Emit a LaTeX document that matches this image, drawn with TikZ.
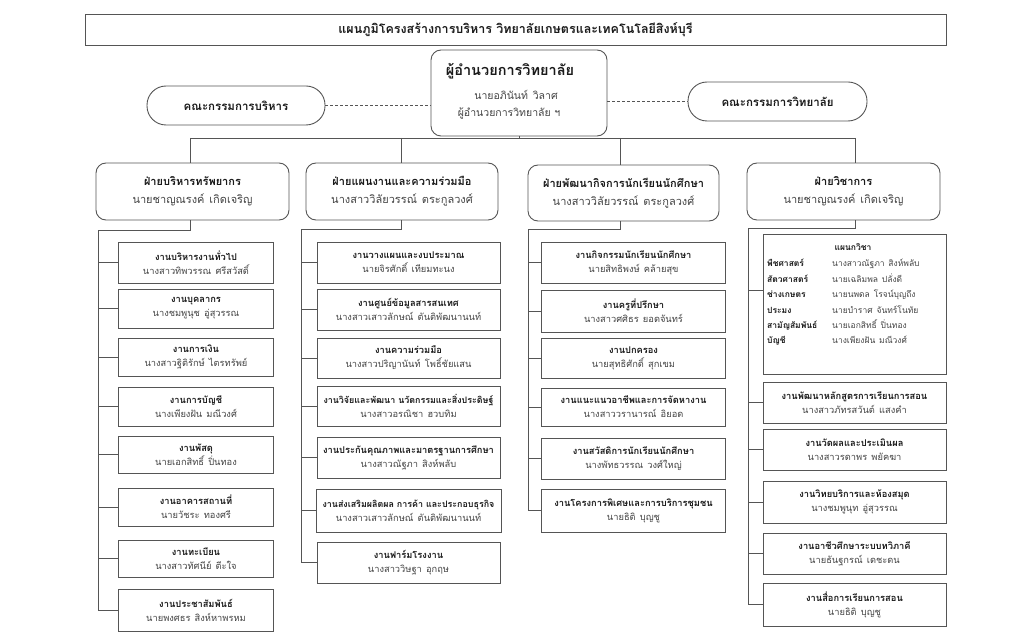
\documentclass[tikz,border=0pt]{standalone}
\usepackage{fontspec}
\newfontfamily\thaifont[Script=Thai]{Loma}
\usetikzlibrary{calc}
\definecolor{linec}{HTML}{555555}
\definecolor{namec}{HTML}{444444}
\definecolor{textc}{HTML}{1A1A1A}
\tikzset{
  base/.style={font=\thaifont, inner sep=0pt, align=center, text=textc},
  titlebox/.style={base, draw=linec, line width=0.9pt, font=\thaifont\bfseries\fontsize{12.5}{14}\selectfont},
  dirbox/.style={base, draw=linec, line width=0.9pt, rounded corners=10pt},
  commbox/.style={base, draw=linec, line width=0.9pt, rounded corners=19pt, minimum height=39pt, font=\thaifont\bfseries\fontsize{11.5}{13}\selectfont},
  divbox/.style={base, draw=linec, line width=0.9pt, rounded corners=10pt, minimum height=57pt, font=\thaifont\fontsize{11}{18}\selectfont},
  subbox/.style={base, draw=linec, line width=0.9pt, font=\thaifont\fontsize{9.3}{14}\selectfont},
  conn/.style={draw=linec, line width=0.9pt},
  dashconn/.style={conn, dash pattern=on 3pt off 2pt},
}
\newcommand{\SB}[7]{%
  \node[subbox, minimum width=#4pt, minimum height=#5pt] (#1) at (#2,#3)
    {\textbf{#6}\\\textcolor{namec}{#7}};}
\newcommand{\gap}{\hspace{0.45em}}
\newcommand{\narrow}{\fontsize{8.9}{14}\selectfont}
\begin{document}
\begin{tikzpicture}[x=1pt,y=-1pt]
\fill[white] (0,0) rectangle (1024,636);
\useasboundingbox (0,0) rectangle (1024,636);

% title
\node[titlebox, minimum width=861pt, minimum height=31pt] (title) at (515.5,29.5)
  {แผนภูมิโครงสร้างการบริหาร วิทยาลัยเกษตรและเทคโนโลยีสิงห์บุรี};

% director
\node[dirbox, minimum width=176pt, minimum height=86pt] (dir) at (519,93) {};
\node[base, font=\thaifont\bfseries\fontsize{14.5}{16}\selectfont] (dirt) at (510,71) {ผู้อำนวยการวิทยาลัย};
\node[base, font=\thaifont\fontsize{10.5}{12}\selectfont, text=namec] (dirn) at (516,95) {นายอภินันท์\gap วิลาศ};
\node[base, font=\thaifont\fontsize{10.5}{12}\selectfont, text=namec] (dirr) at (509,113) {ผู้อำนวยการวิทยาลัย ฯ};

% committees
\node[commbox, minimum width=178pt] (cl) at (236,105.5) {คณะกรรมการบริหาร};
\node[commbox, minimum width=179pt] (cr) at (777.5,101.5) {คณะกรรมการวิทยาลัย};
\draw[dashconn] (cl.east) -- (cl.east -| dir.west);
\draw[dashconn] (cr.west -| dir.east) -- (cr.west);

% divisions
\node[divbox, minimum width=193pt] (d1) at (192.5,191.5)
  {\textbf{ฝ่ายบริหารทรัพยากร}\\\textcolor{namec}{นายชาญณรงค์\gap เกิดเจริญ}};
\node[divbox, minimum width=192pt] (d2) at (402,191.5)
  {\textbf{ฝ่ายแผนงานและความร่วมมือ}\\\textcolor{namec}{นางสาววิลัยวรรณ์\gap ตระกูลวงศ์}};
\node[divbox, minimum width=191pt, minimum height=56pt] (d3) at (623.5,193)
  {\textbf{ฝ่ายพัฒนากิจการนักเรียนนักศึกษา}\\\textcolor{namec}{นางสาววิลัยวรรณ์\gap ตระกูลวงศ์}};
\node[divbox, minimum width=193pt] (d4) at (843.5,191.5)
  {\textbf{ฝ่ายวิชาการ}\\\textcolor{namec}{นายชาญณรงค์\gap เกิดเจริญ}};

% bus
\coordinate (u1) at (190,138);
\coordinate (u2) at (401,138);
\coordinate (u3) at (620,138);
\coordinate (u4) at (855,138);
\draw[conn] (u1) -- (u4);
\draw[conn] (dir.south) -- (dir.south |- u1);
\draw[conn] (u1) -- (u1 |- d1.north);
\draw[conn] (u2) -- (u2 |- d2.north);
\draw[conn] (u3) -- (u3 |- d3.north);
\draw[conn] (u4) -- (u4 |- d4.north);

% column 1
\SB{s11}{196}{262.5}{155}{41}{งานบริหารงานทั่วไป}{นางสาวทิพวรรณ\gap ศรีสวัสดิ์}
\SB{s12}{196}{308.5}{155}{39}{งานบุคลากร}{นางชมพูนุช\gap อู่สุวรรณ}
\SB{s13}{196}{357}{155}{38}{งานการเงิน}{นางสาวฐิติรักษ์\gap ไตรทรัพย์}
\SB{s14}{196}{406.5}{155}{39}{งานการบัญชี}{นางเพียงฝัน\gap มณีวงศ์}
\SB{s15}{196}{454.5}{155}{37}{งานพัสดุ}{นายเอกสิทธิ์\gap ปิ่นทอง}
\SB{s16}{196}{507}{155}{38}{งานอาคารสถานที่}{นายวัชระ\gap ทองศรี}
\SB{s17}{196}{558.5}{155}{37}{งานทะเบียน}{นางสาวทัศนีย์\gap ตีะใจ}
\SB{s18}{196}{610}{155}{42}{งานประชาสัมพันธ์}{นายพงศธร\gap สิงห์หาพรหม}
\coordinate (t1) at (98,230);
\coordinate (b1) at (190,230);
\draw[conn] (d1.south -| b1) -- (b1) -- (t1) -- (t1 |- s18.west);
\foreach \s in {s11,s12,s13,s14,s15,s16,s17,s18} \draw[conn] (t1 |- \s.west) -- (\s.west);

% column 2
\SB{s21}{408.5}{262.5}{183}{41}{งานวางแผนและงบประมาณ}{นายจิรศักดิ์\gap เทียมทะนง}
\SB{s22}{408.5}{309.5}{183}{41}{งานศูนย์ข้อมูลสารสนเทศ}{นางสาวเสาวลักษณ์\gap ตันติพัฒนานนท์}
\SB{s23}{408.5}{358}{183}{40}{งานความร่วมมือ}{นางสาวปริญานันท์\gap โพธิ์ชัยแสน}
\SB{s24}{408.5}{406}{183}{40}{\narrow งานวิจัยและพัฒนา นวัตกรรมและสิ่งประดิษฐ์}{นางสาวอรณิชา\gap ฮวบทิม}
\SB{s25}{408.5}{457.5}{183}{41}{งานประกันคุณภาพและมาตรฐานการศึกษา}{นางสาวณัฐภา\gap สิงห์พลับ}
\SB{s26}{408.5}{510.5}{185}{43}{\narrow งานส่งเสริมผลิตผล การค้า และประกอบธุรกิจ}{นางสาวเสาวลักษณ์\gap ตันติพัฒนานนท์}
\SB{s27}{408.5}{562.5}{183}{41}{งานฟาร์มโรงงาน}{นางสาววิษฐา\gap อุกฤษ}
\coordinate (t2) at (301,229);
\coordinate (b2) at (401,229);
\draw[conn] (d2.south -| b2) -- (b2) -- (t2) -- (t2 |- s27.west);
\foreach \s in {s21,s22,s23,s24,s25,s26,s27} \draw[conn] (t2 |- \s.west) -- (\s.west);

% column 3
\SB{s31}{633.5}{262.5}{184}{41}{งานกิจกรรมนักเรียนนักศึกษา}{นายสิทธิพงษ์\gap คล้ายสุข}
\SB{s32}{633.5}{311}{184}{42}{งานครูที่ปรึกษา}{นางสาวศศิธร\gap ยอดจันทร์}
\SB{s33}{633.5}{358}{184}{40}{งานปกครอง}{นายสุทธิศักดิ์\gap สุกเขม}
\SB{s34}{633.5}{407}{184}{38}{งานแนะแนวอาชีพและการจัดหางาน}{นางสาววรานารณ์\gap อิยอด}
\SB{s35}{633.5}{458.5}{184}{41}{งานสวัสดิการนักเรียนนักศึกษา}{นางพัทธวรรณ\gap วงศ์ใหญ่}
\SB{s36}{633.5}{510.5}{184}{43}{งานโครงการพิเศษและการบริการชุมชน}{นายธิติ\gap บุญชู}
\coordinate (t3) at (528,229);
\coordinate (b3) at (620,229);
\draw[conn] (d3.south -| b3) -- (b3) -- (t3) -- (t3 |- s36.west);
\foreach \s in {s31,s32,s33,s34,s35,s36} \draw[conn] (t3 |- \s.west) -- (\s.west);

% column 4
\node[subbox, minimum width=183pt, minimum height=140pt] (s40) at (854.5,304) {};
\coordinate (s40c) at ([yshift=14pt]s40.west);
\node[base, font=\thaifont\bfseries\fontsize{8.5}{10}\selectfont] (s40h) at (853,247) {แผนกวิชา};
\node[base, anchor=north west, align=left, font=\thaifont\fontsize{8.5}{15.4}\selectfont] (s40t) at (767,256)
 {\begin{tabular}{@{}p{65pt}@{}l@{}}
  \textbf{พืชศาสตร์} & \textcolor{namec}{นางสาวณัฐภา\gap สิงห์พลับ}\\
  \textbf{สัตวศาสตร์} & \textcolor{namec}{นายเฉลิมพล\gap ปลั่งดี}\\
  \textbf{ช่างเกษตร} & \textcolor{namec}{นายนพดล\gap โรจน์บุญถึง}\\
  \textbf{ประมง} & \textcolor{namec}{นายบำราศ\gap จันทร์โนทัย}\\
  \textbf{สามัญสัมพันธ์} & \textcolor{namec}{นายเอกสิทธิ์\gap ปิ่นทอง}\\
  \textbf{บัญชี} & \textcolor{namec}{นางเพียงฝัน\gap มณีวงศ์}
 \end{tabular}};
\SB{s41}{854.5}{402.5}{183}{41}{งานพัฒนาหลักสูตรการเรียนการสอน}{นางสาวภัทรสวันต์\gap แสงคำ}
\SB{s42}{854.5}{449.5}{183}{41}{งานวัดผลและประเมินผล}{นางสาวรดาพร\gap พยัคฆา}
\SB{s43}{854.5}{502}{183}{42}{งานวิทยบริการและห้องสมุด}{นางชมพูนุท\gap อู่สุวรรณ}
\SB{s44}{854.5}{553.5}{183}{41}{งานอาชีวศึกษาระบบทวิภาคี}{นายธันฐกรณ์\gap เดชะดน}
\SB{s45}{854.5}{604.5}{183}{43}{งานสื่อการเรียนการสอน}{นายธิติ\gap บุญชู}
\coordinate (t4) at (748,228);
\coordinate (b4) at (855,228);
\draw[conn] (d4.south -| b4) -- (b4) -- (t4) -- (t4 |- s45.west);
\draw[conn] (t4 |- s40c) -- (s40c);
\foreach \s in {s41,s42,s43,s44,s45} \draw[conn] (t4 |- \s.west) -- (\s.west);
\end{tikzpicture}
\end{document}
